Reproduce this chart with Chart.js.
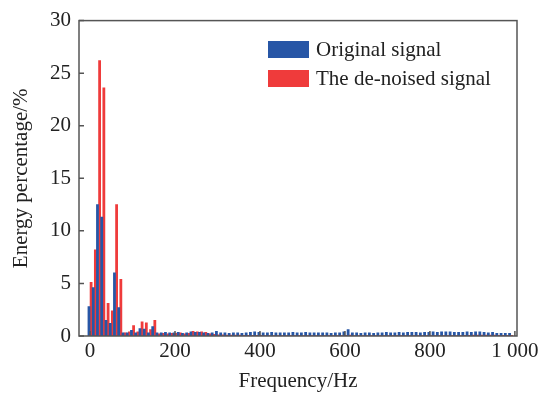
<!DOCTYPE html>
<html>
<head>
<meta charset="utf-8">
<script src="https://cdn.jsdelivr.net/npm/chart.js@4.4.1/dist/chart.umd.min.js"></script>
<style>
  html, body { margin: 0; padding: 0; background: #fff; }
  #wrap { position: relative; width: 545px; height: 396px; }
  #legend { position: absolute; left: 268px; top: 35px; font-family: "Liberation Serif", serif; font-size: 21px; color: #222; }
  .item { display: flex; align-items: center; height: 29px; }
  .box { width: 41px; height: 17px; margin-right: 7px; }
</style>
</head>
<body>
<div id="wrap">
  <canvas id="spectrum" width="545" height="396"></canvas>
  <div id="legend"></div>
</div>
<script>
// Frecuencias (Hz), una barra cada 10 Hz
const freqs = [];
for (let f = 0; f < 1000; f += 10) freqs.push(f);

// Porcentaje de energía
const original = [
  2.8, 4.6, 12.5, 11.3, 1.5, 1.2, 6.0, 2.7, 0.3, 0.3,
  0.55, 0.3, 0.7, 0.65, 0.3, 0.9, 0.3, 0.3, 0.35, 0.3,
  0.3, 0.35, 0.25, 0.3, 0.4, 0.35, 0.35, 0.3, 0.25, 0.3,
  0.45, 0.3, 0.3, 0.25, 0.3, 0.3, 0.25, 0.3, 0.35, 0.4,
  0.35, 0.3, 0.3, 0.35, 0.3, 0.3, 0.3, 0.3, 0.35, 0.3,
  0.3, 0.35, 0.3, 0.3, 0.3, 0.3, 0.3, 0.25, 0.3, 0.3,
  0.4, 0.6, 0.3, 0.3, 0.25, 0.3, 0.3, 0.25, 0.3, 0.3,
  0.35, 0.3, 0.3, 0.35, 0.3, 0.35, 0.35, 0.35, 0.3, 0.35,
  0.35, 0.4, 0.35, 0.4, 0.4, 0.4, 0.35, 0.35, 0.35, 0.4,
  0.35, 0.4, 0.4, 0.35, 0.3, 0.35, 0.25, 0.25, 0.25, 0.25
];
const denoised = [
  5.1, 8.2, 26.2, 23.6, 3.1, 2.4, 12.5, 5.4, 0.3, 0.4,
  1.0, 0.4, 1.35, 1.25, 0.6, 1.5, 0.2, 0.25, 0.2, 0.25,
  0.25, 0.3, 0.2, 0.25, 0.45, 0.4, 0.4, 0.35, 0.2, 0.15,
  0.1, 0.1, 0.08, 0.08, 0.08, 0.08, 0.06, 0.06, 0.06, 0.06,
  0.06, 0.05, 0.05, 0.05, 0.05, 0.05, 0.05, 0.05, 0.05, 0.05,
  0.05, 0.05, 0.05, 0.05, 0.05, 0.05, 0.05, 0.05, 0.05, 0.05,
  0.06, 0.08, 0.05, 0.05, 0.05, 0.05, 0.05, 0.05, 0.05, 0.05,
  0.05, 0.05, 0.05, 0.05, 0.05, 0.05, 0.05, 0.05, 0.05, 0.05,
  0.05, 0.05, 0.05, 0.05, 0.05, 0.05, 0.05, 0.05, 0.06, 0.06,
  0.08, 0.08, 0.08, 0.08, 0.08, 0.08, 0.06, 0.06, 0.06, 0.06
];
const labels = ['Original signal', 'The de-noised signal'];
const xTicks = [0, 200, 400, 600, 800, 1000];
const yTicks = [0, 5, 10, 15, 20, 25, 30];

const serif = '"Liberation Serif", "Times New Roman", serif';
const textColor = '#222';

// Marco completo con marcas hacia dentro
const framePlugin = {
  id: 'frame',
  afterDraw(chart) {
    const { ctx, chartArea: a, scales } = chart;
    ctx.save();
    ctx.strokeStyle = '#555';
    ctx.lineWidth = 1.5;
    ctx.strokeRect(a.left, a.top, a.right - a.left, a.bottom - a.top);
    ctx.beginPath();
    yTicks.forEach(v => {
      const y = scales.y.getPixelForValue(v);
      ctx.moveTo(a.left, y);
      ctx.lineTo(a.left + 5, y);
    });
    xTicks.forEach(v => {
      const x = scales.x.getPixelForValue(v);
      ctx.moveTo(x, a.bottom);
      ctx.lineTo(x, a.bottom - 5);
    });
    ctx.stroke();
    ctx.restore();
  }
};

const spectrumData = {
  datasets: [
    {
      label: labels[0],
      data: freqs.map((f, i) => ({ x: f, y: original[i] })),
      backgroundColor: '#2756a6',
      categoryPercentage: 1,
      barPercentage: 1
    },
    {
      label: labels[1],
      data: freqs.map((f, i) => ({ x: f, y: denoised[i] })),
      backgroundColor: '#ef3b3b',
      categoryPercentage: 1,
      barPercentage: 1
    }
  ]
};

const spectrumConfig = {
  type: 'bar',
  data: spectrumData,
  plugins: [framePlugin],
  options: {
    responsive: false,
    animation: false,
    layout: { padding: { top: 19, right: 28, left: 0, bottom: 0 } },
    plugins: { legend: { display: false }, tooltip: { enabled: false } },
    scales: {
      x: {
        type: 'linear',
        min: -26,
        max: 1005,
        offset: false,
        grid: { display: false, drawTicks: false },
        border: { display: false },
        afterBuildTicks: s => { s.ticks = xTicks.map(v => ({ value: v })); },
        afterFit: s => { s.height = 60; },
        ticks: {
          padding: 3,
          maxRotation: 0,
          color: textColor,
          font: { family: serif, size: 21 },
          callback: v => (v === 1000 ? '1 000' : v)
        },
        title: {
          display: true,
          text: 'Frequency/Hz',
          color: textColor,
          font: { family: serif, size: 21 },
          padding: { top: 0, bottom: 2 }
        }
      },
      y: {
        min: 0,
        max: 30,
        grid: { display: false, drawTicks: false },
        border: { display: false },
        afterBuildTicks: s => { s.ticks = yTicks.map(v => ({ value: v })); },
        afterFit: s => { s.width = 79; },
        ticks: {
          padding: 8,
          color: textColor,
          font: { family: serif, size: 21 }
        },
        title: {
          display: true,
          text: 'Energy percentage/%',
          color: textColor,
          font: { family: serif, size: 21 },
          padding: { top: 9, bottom: 0 }
        }
      }
    }
  }
};

// Crear el gráfico
const spectrumChart = new Chart(document.getElementById('spectrum'), spectrumConfig);

// Leyenda como texto HTML
const legendEl = document.getElementById('legend');
spectrumChart.data.datasets.forEach(ds => {
  const item = document.createElement('div');
  item.className = 'item';
  const box = document.createElement('span');
  box.className = 'box';
  box.style.background = ds.backgroundColor;
  const txt = document.createElement('span');
  txt.textContent = ds.label;
  item.appendChild(box);
  item.appendChild(txt);
  legendEl.appendChild(item);
});
</script>
</body>
</html>
